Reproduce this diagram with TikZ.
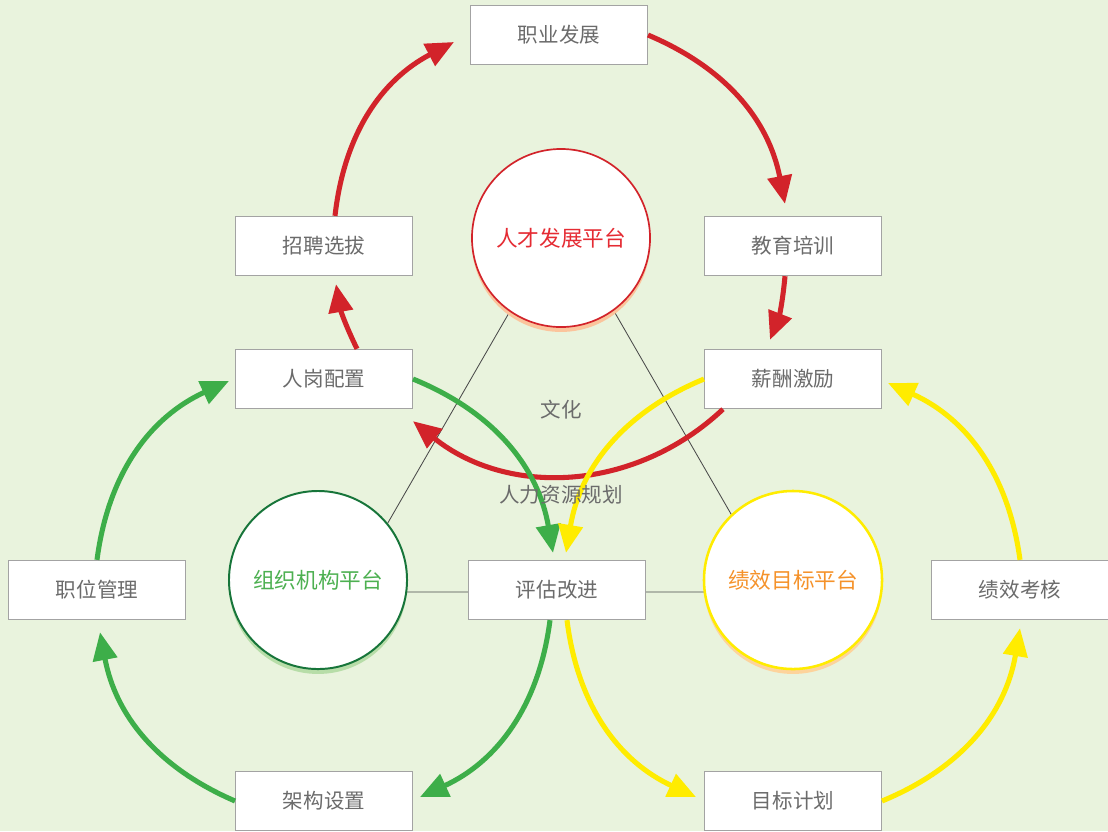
\documentclass[tikz,border=0pt]{standalone}
\usepackage{fontspec}
\setmainfont{Noto Sans CJK SC}
\usepackage{xcolor}
\usepackage{tikz}
\usetikzlibrary{arrows.meta,calc,shadows}
\definecolor{bggreen}{HTML}{E9F3DD}
\definecolor{hrred}{HTML}{D2232A}
\definecolor{hrgreen}{HTML}{3DAE49}
\definecolor{hryellow}{HTML}{FFEC00}
\definecolor{darkgreen}{HTML}{17753A}
\definecolor{txtgray}{HTML}{6B6B6B}
\definecolor{boxgray}{HTML}{A3A3A3}
\definecolor{linegray}{HTML}{4A4A4A}
\definecolor{peach}{HTML}{FBC49C}
\definecolor{palegreen}{HTML}{B7DDA8}
\definecolor{paleorange}{HTML}{FDD39C}
\definecolor{redtext}{HTML}{E52B33}
\definecolor{greentext}{HTML}{4DB051}
\definecolor{orangetext}{HTML}{F5922A}
\tikzset{
  arr/.style={-{Triangle[length=0.7cm,width=0.6cm]},line width=3.6pt},
  box/.style={rectangle,minimum width=4.42cm,minimum height=1.48cm,
    fill=white,draw=boxgray,line width=0.8pt,text=txtgray,
    font=\fontsize{14.6}{16}\selectfont},
  pcirc/.style={circle,minimum size=4.45cm,inner sep=0pt,fill=white,
    font=\fontsize{15.4}{17}\selectfont},
  shd/.style={drop shadow={shadow xshift=0pt,shadow yshift=-3.5pt,fill=#1,opacity=1}},
  tri/.style={linegray,line width=0.6pt},
  lbl/.style={text=txtgray,font=\fontsize{14.6}{16}\selectfont},
}

\begin{document}
\begin{tikzpicture}[x=0.025cm,y=0.025cm]

\fill[bggreen] (0,0) rectangle (1108,-831);
\useasboundingbox (0,0) rectangle (1108,-831);

\coordinate (ta) at (562,-221);
\coordinate (tl) at (348,-592);
\coordinate (tr) at (776,-592);
\draw[tri] (ta) -- (tl) -- (tr) -- cycle;

\node[pcirc,draw=hrred,line width=1.2pt,text=redtext,shd=peach] (rc) at (561,-238) {人才发展平台};
\node[pcirc,draw=darkgreen,line width=1.4pt,text=greentext,shd=palegreen] (gc) at (318,-580) {组织机构平台};
\node[pcirc,draw=hryellow,line width=1.8pt,text=orangetext,shd=paleorange] (yc) at (793,-580) {绩效目标平台};

\node[box] (zy) at (559,-35) {职业发展};
\node[box] (zp) at (324,-246) {招聘选拔};
\node[box] (jy) at (793,-246) {教育培训};
\node[box] (rg) at (324,-379) {人岗配置};
\node[box] (xc) at (793,-379) {薪酬激励};
\node[box] (zw) at (97,-590) {职位管理};
\node[box] (pg) at (557,-590) {评估改进};
\node[box] (jx) at (1020,-590) {绩效考核};
\node[box] (jg) at (324,-801) {架构设置};
\node[box] (mb) at (793,-801) {目标计划};

% talent cycle
\draw[arr,hrred] ($(zp.north)+(11,0)$) to[bend left=28] ($(zy.west)+(-16,-7)$);
\draw[arr,hrred] (zy.east) to[bend left=28] ($(jy.north)+(-8,12)$);
\draw[arr,hrred] ($(jy.south)+(-8,0)$) to[bend left=8] ($(xc.north)+(-23,9)$);
\draw[arr,hrred] ($(xc.south)+(-70,0)$) to[bend left=41] ($(rg.south east)+(0,-12)$);
\draw[arr,hrred] ($(rg.north)+(33,0)$) to[bend left=8] ($(zp.south)+(12,-8)$);

% organisation cycle
\draw[arr,hrgreen] (zw.north) to[bend left=29] ($(rg.west)+(-6,-2)$);
\draw[arr,hrgreen] (rg.east) to[bend left=29] ($(pg.north)+(-4,7)$);
\draw[arr,hrgreen] ($(pg.south)+(-7,0)$) to[bend left=29] ($(jg.east)+(7,4)$);
\draw[arr,hrgreen] (jg.west) to[bend left=28] ($(zw.south)+(3,-12)$);

% performance cycle
\draw[arr,hryellow] (xc.west) to[bend right=29] ($(pg.north)+(9,7)$);
\draw[arr,hryellow] ($(pg.south)+(10,0)$) to[bend right=29] ($(mb.west)+(-8,4)$);
\draw[arr,hryellow] (mb.east) to[bend right=29] ($(jx.south)+(0,-8)$);
\draw[arr,hryellow] (jx.north) to[bend right=29] ($(xc.east)+(6,-4)$);

\node[lbl] (wh) at (561,-410) {文化};
\node[lbl] (hp) at (561,-495) {人力资源规划};
\end{tikzpicture}
\end{document}
